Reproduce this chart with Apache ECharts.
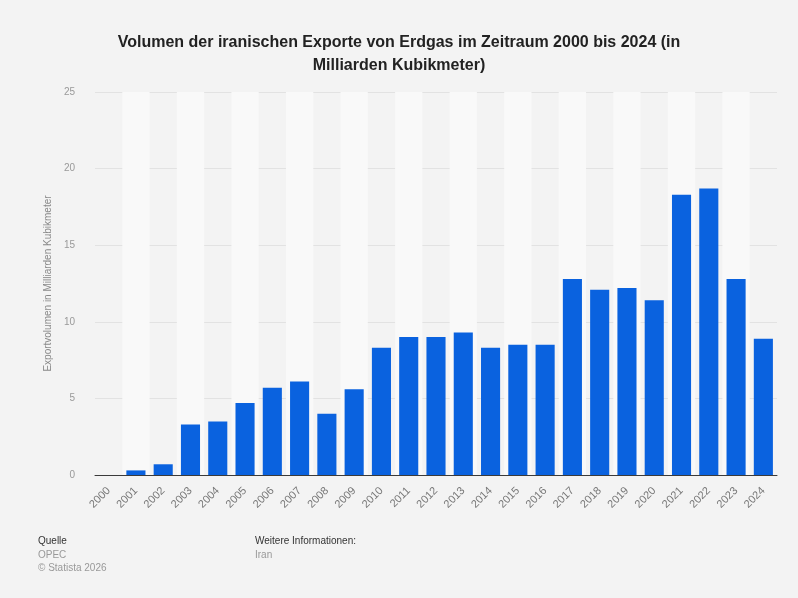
<!DOCTYPE html>
<html>
<head>
<meta charset="utf-8">
<script src="https://cdn.jsdelivr.net/npm/echarts@6/dist/echarts.min.js"></script>
<style>
  html, body { margin: 0; padding: 0; background: #f3f3f3; }
  #chart { width: 798px; height: 598px; }
</style>
</head>
<body>
<div id="chart"></div>
<script>
// Iran natural gas exports, bn cubic metres
const years = ['2000','2001','2002','2003','2004','2005','2006','2007','2008','2009','2010','2011','2012',
  '2013','2014','2015','2016','2017','2018','2019','2020','2021','2022','2023','2024']
const volumes = [0, 0.3, 0.7, 3.3, 3.5, 4.7, 5.7, 6.1, 4.0, 5.6, 8.3, 9.0, 9.0,
  9.3, 8.3, 8.5, 8.5, 12.8, 12.1, 12.2, 11.4, 18.3, 18.7, 12.8, 8.9]
const yTicks = [0, 5, 10, 15, 20, 25]

const chart = echarts.init(document.getElementById('chart'), null, { renderer: 'canvas' })
const font = 'Arial, "Liberation Sans", sans-serif'

chart.setOption({
  backgroundColor: '#f3f3f3',
  animation: false,
  textStyle: { fontFamily: font },
  title: {
    text: 'Volumen der iranischen Exporte von Erdgas im Zeitraum 2000 bis 2024 (in\nMilliarden Kubikmeter)',
    left: 'center', top: 26,
    textStyle: { fontSize: 16, fontWeight: 'bold', color: '#222', lineHeight: 23, fontFamily: font },
  },
  grid: { left: 95, right: 21, top: 92, bottom: 123 },
  xAxis: {
    type: 'category', data: years,
    axisLine: { lineStyle: { color: '#3a3a3a', width: 1 } },
    axisTick: { show: false },
    axisLabel: { rotate: 45, color: '#777', fontSize: 11, margin: 14, interval: 0 },
    splitArea: { show: true, areaStyle: { color: ['rgba(0,0,0,0)', '#f9f9f9'] } },
  },
  yAxis: {
    type: 'value', min: 0, max: yTicks[yTicks.length - 1], interval: 5,
    name: 'Exportvolumen in Milliarden Kubikmeter',
    nameLocation: 'middle', nameGap: 40,
    nameTextStyle: { color: '#888', fontSize: 10 },
    axisLine: { show: false },
    axisTick: { show: false },
    axisLabel: { color: '#999', fontSize: 10, margin: 20 },
    splitLine: { lineStyle: { color: '#e2e2e2', width: 1 } },
  },
  series: [{
    type: 'bar', data: volumes, barWidth: '70%',
    itemStyle: { color: '#0a62df' },
  }],
  graphic: [
    { type: 'text', left: 38, top: 536, style: { text: 'Quelle', fill: '#333', font: '10px ' + font } },
    { type: 'text', left: 38, top: 550, style: { text: 'OPEC', fill: '#999', font: '10px ' + font } },
    { type: 'text', left: 38, top: 563, style: { text: '© Statista 2026', fill: '#999', font: '10px ' + font } },
    { type: 'text', left: 255, top: 536, style: { text: 'Weitere Informationen:', fill: '#333', font: '10px ' + font } },
    { type: 'text', left: 255, top: 550, style: { text: 'Iran', fill: '#999', font: '10px ' + font } },
  ],
})
</script>
</body>
</html>
